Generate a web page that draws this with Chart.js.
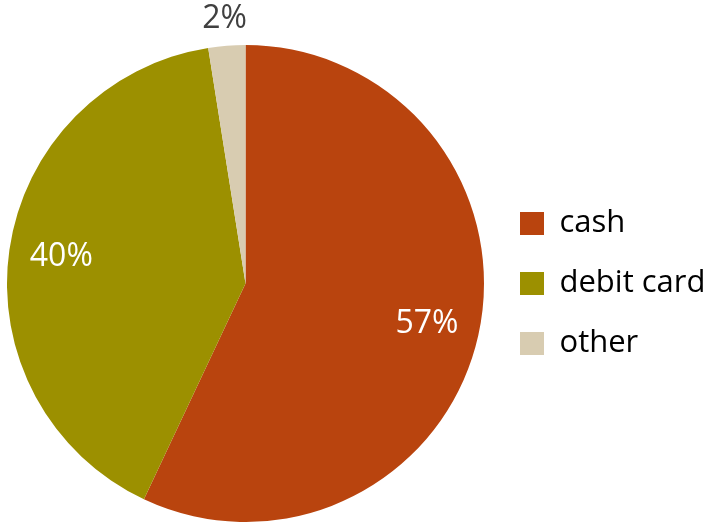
<!DOCTYPE html>
<html>
<head>
<meta charset="utf-8">
<script src="https://cdn.jsdelivr.net/npm/chart.js"></script>
<style>
  html, body { margin: 0; padding: 0; background: #ffffff; }
  #wrap { width: 705px; height: 522px; position: relative; }
</style>
</head>
<body>
<div id="wrap"><canvas id="chart"></canvas></div>
<script>
// data
const categories = ['cash', 'debit card', 'other'];
const shares = [57, 40.5, 2.5];
const shareLabels = ['57%', '40%', '2%'];
const sliceColors = ['#B9440E', '#9C9000', '#D8CCB1'];

// draws the percent labels: inside big slices, outside the tiny one
const sliceLabels = {
    id: 'sliceLabels',
    afterDatasetsDraw(chart) {
        const ctx = chart.ctx;
        const meta = chart.getDatasetMeta(0);
        ctx.save();
        ctx.font = '32px "Open Sans", sans-serif';
        ctx.textAlign = 'center';
        ctx.textBaseline = 'middle';
        meta.data.forEach((arc, i) => {
            const p = arc.getProps(['x', 'y', 'startAngle', 'endAngle', 'outerRadius'], true);
            const mid = (p.startAngle + p.endAngle) / 2;
            let r, color;
            if (shares[i] < 5) {
                r = p.outerRadius + 27;
                color = '#404040';
            } else {
                r = p.outerRadius * 0.78;
                color = '#ffffff';
            }
            ctx.fillStyle = color;
            ctx.fillText(shareLabels[i], p.x + Math.cos(mid) * r, p.y + Math.sin(mid) * r);
        });
        ctx.restore();
    }
};

new Chart(document.getElementById('chart').getContext('2d'), {
    type: 'pie',
    data: {
        labels: categories,
        datasets: [{
            data: shares,
            backgroundColor: sliceColors,
            borderWidth: 0
        }]
    },
    options: {
        responsive: true,
        maintainAspectRatio: false,
        animation: false,
        layout: {
            padding: { top: 45, bottom: 0, left: 0, right: 0 }
        },
        plugins: {
            tooltip: { enabled: false },
            legend: {
                position: 'right',
                maxWidth: 214,
                labels: {
                    boxWidth: 24,
                    boxHeight: 23,
                    padding: 29,
                    color: '#000000',
                    font: { family: '"Open Sans", sans-serif', size: 31 }
                }
            }
        }
    },
    plugins: [sliceLabels]
});
</script>
</body>
</html>
